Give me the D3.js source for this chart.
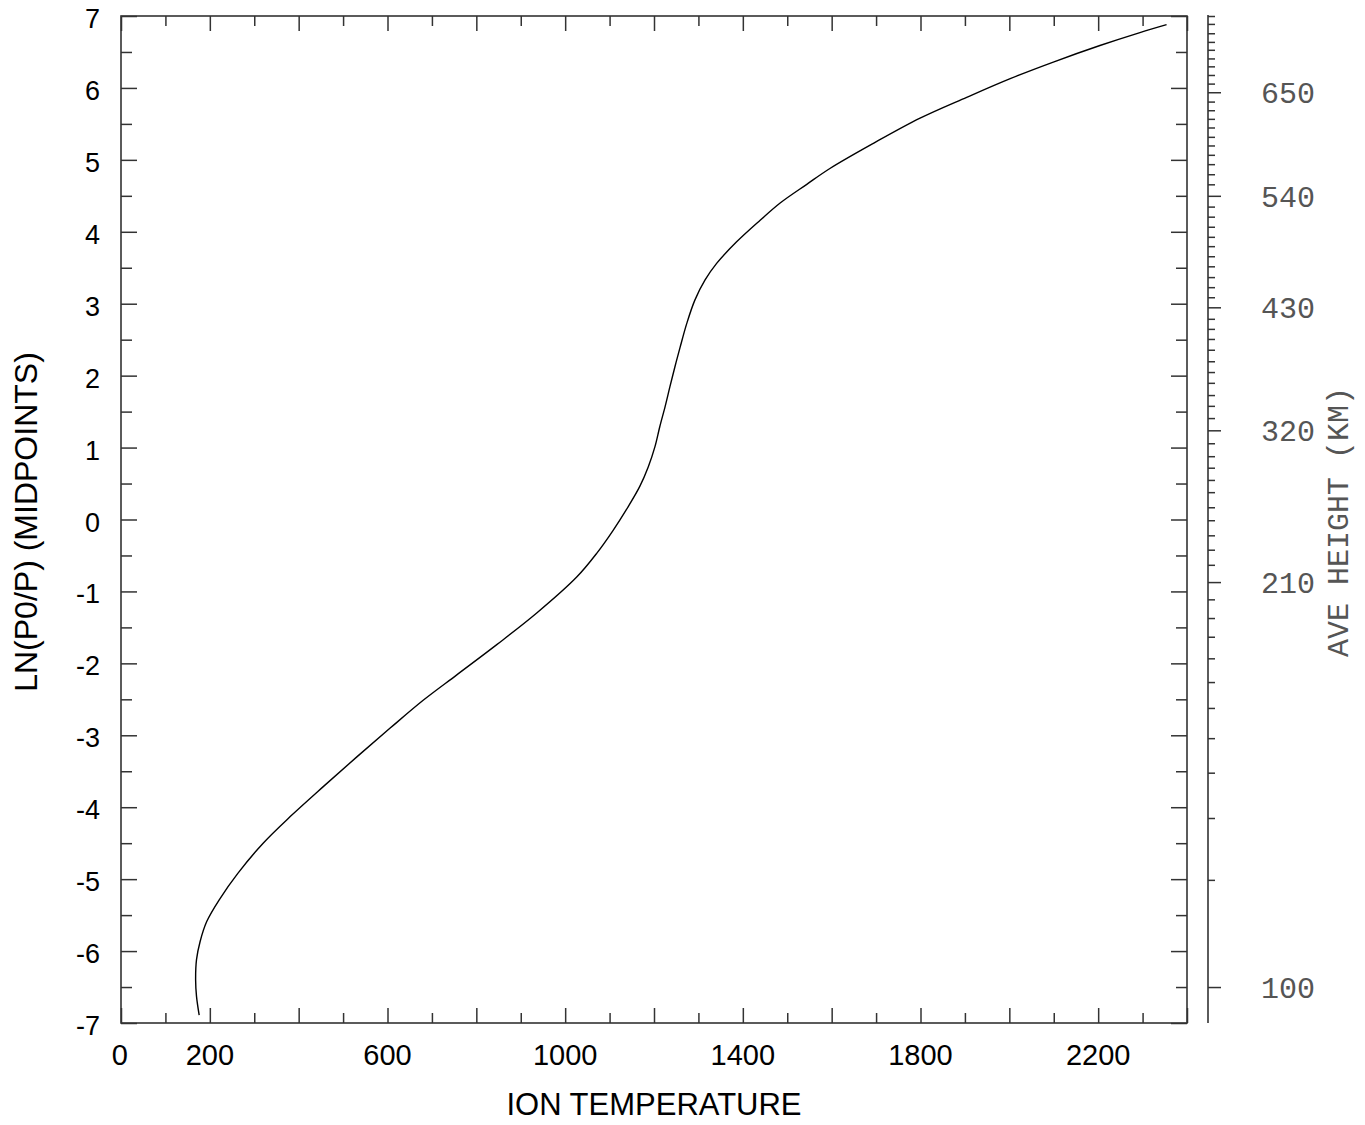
<!DOCTYPE html>
<html>
<head>
<meta charset="utf-8">
<script src="https://cdn.jsdelivr.net/npm/d3@7"></script>
<style>
  body { margin: 0; background: #fff; }
  svg { display: block; }
</style>
</head>
<body>
<div id="chart"></div>
<script>
// curve: ion temperature vs ln(P0/P) from bottom to top
const lnValues = [-6.89, -6.63, -6.40, -6.12, -5.87, -5.59, -5.27, -4.92, -4.50, -4.13,
  -3.71, -3.30, -2.90, -2.51, -2.16, -1.74, -1.30, -0.80, -0.47, -0.15, 0.18,
  0.46, 0.73, 1.01, 1.29, 1.57, 1.85, 2.12, 2.40, 2.73, 3.05, 3.33, 3.56, 3.86, 4.16,
  4.40, 4.66, 4.88, 5.23, 5.58, 5.87, 6.13, 6.36, 6.59, 6.77, 6.88];
const ionTemp = [176, 170, 168, 170, 178, 193, 223, 263, 320, 381,
  456, 531, 606, 681, 756, 846, 936, 1026, 1071, 1108, 1142,
  1168, 1187, 1202, 1213, 1225, 1236, 1247, 1259, 1274, 1292, 1315, 1341, 1386, 1439,
  1484, 1544, 1596, 1694, 1799, 1904, 2002, 2099, 2204, 2294, 2354];

// axes
const tempLabels = [0, 200, 600, 1000, 1400, 1800, 2200];
const lnLabels = [7, 6, 5, 4, 3, 2, 1, 0, -1, -2, -3, -4, -5, -6, -7];

// right axis: average height (km) against ln(P0/P)
const heightLabels = [100, 210, 320, 430, 540, 650];
const heightKm = [100, 110, 120, 130, 140, 150, 160, 170, 180, 190,
  200, 210, 220, 230, 240, 250, 260, 270, 280, 290,
  300, 310, 320, 330, 340, 350, 360, 370, 380, 390,
  400, 410, 420, 430, 440, 450, 460, 470, 480, 490,
  500, 510, 520, 530, 540, 550, 560, 570, 580, 590,
  600, 610, 620, 630, 640, 650, 660, 670, 680, 690,
  700, 710, 720, 730, 740];
const heightLn = [-6.50, -5.01, -4.15, -3.52, -3.04, -2.62, -2.26, -1.93, -1.63, -1.37,
  -1.11, -0.87, -0.63, -0.42, -0.22, -0.01, 0.17, 0.38, 0.55, 0.72,
  0.88, 1.06, 1.24, 1.41, 1.58, 1.73, 1.90, 2.05, 2.20, 2.36,
  2.51, 2.65, 2.79, 2.95, 3.09, 3.23, 3.37, 3.52, 3.66, 3.80,
  3.93, 4.07, 4.21, 4.35, 4.50, 4.66, 4.80, 4.94, 5.07, 5.20,
  5.32, 5.45, 5.57, 5.69, 5.81, 5.94, 6.06, 6.18, 6.30, 6.41,
  6.53, 6.64, 6.76, 6.89, 7.00];

const W = 1365, H = 1125;
const plotL = 121, plotR = 1187, plotT = 16, plotB = 1023;
const axisColor = '#333';

const svg = d3.select('#chart').append('svg')
  .attr('width', W).attr('height', H);

const x = d3.scaleLinear().domain([0, 2400]).range([plotL, plotR]);
const y = d3.scaleLinear().domain([-7, 7]).range([plotB, plotT]);
const hy = d3.scaleLinear().domain(heightKm).range(heightLn.map(v => y(v)));

// tick helper: draws inward ticks without the domain line
function ticks(axis, tx, ty) {
  const g = svg.append('g').attr('transform', `translate(${tx},${ty})`).call(axis);
  g.select('.domain').remove();
  g.selectAll('line').attr('stroke', axisColor).attr('stroke-width', 1.5);
  return g;
}

const tMajor = d3.range(0, 2401, 200), tMinor = d3.range(100, 2400, 200);
const lMajor = d3.range(-7, 8, 1), lMinor = d3.range(-6.5, 7, 1);

ticks(d3.axisBottom(x).tickValues(tMajor).tickSize(-15).tickFormat(''), 0, plotB);
ticks(d3.axisBottom(x).tickValues(tMinor).tickSize(-10).tickFormat(''), 0, plotB);
ticks(d3.axisTop(x).tickValues(tMajor).tickSize(-15).tickFormat(''), 0, plotT);
ticks(d3.axisTop(x).tickValues(tMinor).tickSize(-10).tickFormat(''), 0, plotT);
ticks(d3.axisLeft(y).tickValues(lMajor).tickSize(-16).tickFormat(''), plotL, 0);
ticks(d3.axisLeft(y).tickValues(lMinor).tickSize(-11).tickFormat(''), plotL, 0);
ticks(d3.axisRight(y).tickValues(lMajor).tickSize(-16).tickFormat(''), plotR, 0);
ticks(d3.axisRight(y).tickValues(lMinor).tickSize(-11).tickFormat(''), plotR, 0);

// frame
svg.append('rect')
  .attr('x', plotL).attr('y', plotT)
  .attr('width', plotR - plotL).attr('height', plotB - plotT)
  .attr('fill', 'none').attr('stroke', axisColor).attr('stroke-width', 1.6);

// left labels
svg.append('g').selectAll('text').data(lnLabels).enter().append('text')
  .attr('x', 100).attr('y', d => y(d) + 12)
  .attr('text-anchor', 'end')
  .attr('font-family', 'Liberation Sans, Arial, sans-serif')
  .attr('font-size', 27)
  .attr('fill', '#000')
  .text(d => d);

// bottom labels
svg.append('g').selectAll('text').data(tempLabels).enter().append('text')
  .attr('x', d => x(d)).attr('y', 1065)
  .attr('text-anchor', d => d === 0 ? 'end' : 'middle')
  .attr('dx', d => d === 0 ? 7 : 0)
  .attr('font-family', 'Liberation Sans, Arial, sans-serif')
  .attr('font-size', 29)
  .attr('fill', '#000')
  .text(d => d);

svg.append('text')
  .attr('x', 654).attr('y', 1115)
  .attr('text-anchor', 'middle')
  .attr('font-family', 'Liberation Sans, Arial, sans-serif')
  .attr('font-size', 31)
  .text('ION TEMPERATURE');

svg.append('text')
  .attr('transform', 'translate(37,522) rotate(-90)')
  .attr('text-anchor', 'middle')
  .attr('font-family', 'Liberation Sans, Arial, sans-serif')
  .attr('font-size', 32)
  .text('LN(P0/P) (MIDPOINTS)');

// right height axis
const rx = 1208;
svg.append('line')
  .attr('x1', rx).attr('x2', rx).attr('y1', plotT - 1).attr('y2', plotB)
  .attr('stroke', axisColor).attr('stroke-width', 1.6);
ticks(d3.axisRight(hy).tickValues(heightKm.filter(d => !heightLabels.includes(d))).tickSize(7).tickFormat(''), rx, 0);
ticks(d3.axisRight(hy).tickValues(heightLabels).tickSize(13).tickFormat(''), rx, 0);

svg.append('g').selectAll('text').data(heightLabels).enter().append('text')
  .attr('x', 1261).attr('y', d => hy(d) + 11)
  .attr('font-family', 'Liberation Mono, DejaVu Sans Mono, monospace')
  .attr('font-size', 30)
  .attr('fill', '#555')
  .text(d => d);

svg.append('text')
  .attr('transform', 'translate(1348,522) rotate(-90)')
  .attr('text-anchor', 'middle')
  .attr('font-family', 'Liberation Mono, DejaVu Sans Mono, monospace')
  .attr('font-size', 30)
  .attr('fill', '#555')
  .text('AVE HEIGHT (KM)');

// the temperature curve
const pts = lnValues.map((v, i) => [ionTemp[i], v]);
svg.append('path')
  .datum(pts)
  .attr('fill', 'none')
  .attr('stroke', '#000')
  .attr('stroke-width', 1.4)
  .attr('d', d3.line().x(d => x(d[0])).y(d => y(d[1])).curve(d3.curveCatmullRom));
</script>
</body>
</html>
